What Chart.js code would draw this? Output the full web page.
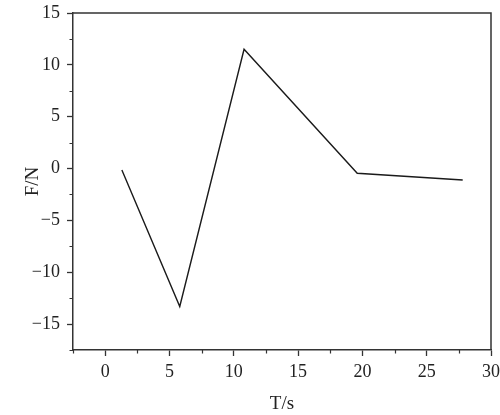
<!DOCTYPE html>
<html>
<head>
<meta charset="utf-8">
<script src="https://cdn.jsdelivr.net/npm/chart.js@4"></script>
<style>
  body { margin: 0; background: #fff; }
  #wrap { width: 500px; height: 415px; }
</style>
</head>
<body>
<div id="wrap"><canvas id="forceChart"></canvas></div>
<script>
const timeValues = [1.3, 5.8, 10.8, 19.6, 27.8];
const forceValues = [-0.15, -13.3, 11.5, -0.45, -1.1];

const xTicks = [0, 5, 10, 15, 20, 25, 30];
const yTicks = [-15, -10, -5, 0, 5, 10, 15];
const xMinorTicks = [-2.5, 2.5, 7.5, 12.5, 17.5, 22.5, 27.5];
const yMinorTicks = [-17.5, -12.5, -7.5, -2.5, 2.5, 7.5, 12.5];

const axisColor = '#333';
const textColor = '#222';
const fontFamily = '"Liberation Serif", "DejaVu Serif", serif';

const points = timeValues.map((t, i) => ({ x: t, y: forceValues[i] }));

function minusSign(v) {
    return String(v).replace('-', '\u2212');
}

// frame on top/right plus the small ticks between the labelled ones
const frameAndMinor = {
    id: 'frameAndMinor',
    afterDraw(chart) {
        const c = chart.ctx;
        const area = chart.chartArea;
        const xs = chart.scales.x;
        const ys = chart.scales.y;
        c.save();
        c.strokeStyle = axisColor;
        c.lineWidth = 1.5;
        c.beginPath();
        c.moveTo(area.left, area.top);
        c.lineTo(area.right, area.top);
        c.lineTo(area.right, area.bottom);
        c.stroke();

        c.lineWidth = 1.2;
        c.beginPath();
        xMinorTicks.forEach(v => {
            const px = Math.round(xs.getPixelForValue(v)) + 0.5;
            c.moveTo(px, area.bottom);
            c.lineTo(px, area.bottom + 3.5);
        });
        yMinorTicks.forEach(v => {
            const py = Math.round(ys.getPixelForValue(v)) + 0.5;
            c.moveTo(area.left, py);
            c.lineTo(area.left - 3.5, py);
        });
        c.stroke();
        c.restore();
    }
};

const ctx = document.getElementById('forceChart').getContext('2d');

const chart = new Chart(ctx, {
    type: 'scatter',
    data: {
        datasets: [{
            data: points,
            showLine: true,
            borderColor: '#1a1a1a',
            borderWidth: 1.4,
            pointRadius: 0,
            tension: 0
        }]
    },
    options: {
        responsive: true,
        maintainAspectRatio: false,
        animation: false,
        layout: {
            padding: { top: 13, right: 9, left: 0, bottom: 0 }
        },
        plugins: {
            legend: { display: false },
            tooltip: { enabled: false }
        },
        scales: {
            x: {
                type: 'linear',
                min: -2.5,
                max: 30,
                afterBuildTicks: scale => {
                    scale.ticks = xTicks.map(v => ({ value: v }));
                },
                afterFit: scale => {
                    scale.height = 65;
                    scale.paddingRight = 0;
                    scale.paddingLeft = 0;
                },
                ticks: {
                    color: textColor,
                    font: { family: fontFamily, size: 18 },
                    padding: 5,
                    maxRotation: 0,
                    callback: v => minusSign(v)
                },
                grid: {
                    drawOnChartArea: false,
                    drawTicks: true,
                    tickLength: 6,
                    tickColor: axisColor,
                    tickWidth: 1.3
                },
                border: { display: true, color: axisColor, width: 1.5 },
                title: {
                    display: true,
                    text: 'T/s',
                    color: textColor,
                    font: { family: fontFamily, size: 19 },
                    padding: { top: 4, bottom: 0 }
                }
            },
            y: {
                type: 'linear',
                min: -17.5,
                max: 15,
                afterBuildTicks: scale => {
                    scale.ticks = yTicks.map(v => ({ value: v }));
                },
                afterFit: scale => {
                    scale.width = 73;
                    scale.paddingTop = 0;
                    scale.paddingBottom = 0;
                },
                ticks: {
                    color: textColor,
                    font: { family: fontFamily, size: 18 },
                    padding: 7,
                    callback: v => minusSign(v)
                },
                grid: {
                    drawOnChartArea: false,
                    drawTicks: true,
                    tickLength: 6,
                    tickColor: axisColor,
                    tickWidth: 1.3
                },
                border: { display: true, color: axisColor, width: 1.5 },
                title: {
                    display: true,
                    text: 'F/N',
                    color: textColor,
                    font: { family: fontFamily, size: 19 },
                    padding: { top: 22, bottom: 0 }
                }
            }
        }
    },
    plugins: [frameAndMinor]
});
</script>
</body>
</html>
